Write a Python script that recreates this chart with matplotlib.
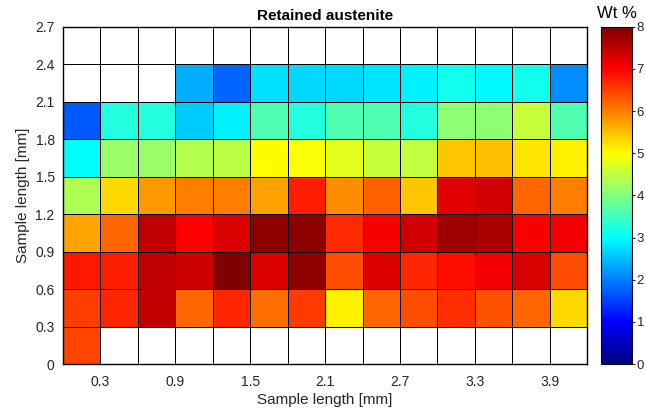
import numpy as np
import matplotlib
matplotlib.use("Agg")
import matplotlib.pyplot as plt
from matplotlib.colors import LinearSegmentedColormap

plt.rcParams['font.family'] = ['Liberation Sans', 'DejaVu Sans']

# cell edges (mm)
x_edges = np.round(np.arange(0, 4.2 + 0.001, 0.3), 2)
y_edges = np.round(np.arange(0, 2.7 + 0.001, 0.3), 2)
x_ticks = [0.3, 0.9, 1.5, 2.1, 2.7, 3.3, 3.9]
y_ticks = [0, 0.3, 0.6, 0.9, 1.2, 1.5, 1.8, 2.1, 2.4, 2.7]

nan = np.nan
# retained austenite, Wt %, one list per row, bottom row first
row_00 = [6.45, nan, nan, nan, nan, nan, nan, nan, nan, nan, nan, nan, nan, nan]
row_03 = [6.5, 6.7, 7.45, 6.2, 6.7, 6.15, 6.55, 5.1, 6.2, 6.4, 6.65, 6.35, 6.2, 5.3]
row_06 = [6.8, 6.75, 7.47, 7.4, 8.0, 7.25, 7.85, 6.4, 7.25, 6.7, 6.9, 7.08, 7.3, 6.4]
row_09 = [5.7, 6.2, 7.47, 7.0, 7.3, 7.9, 7.9, 6.68, 7.05, 7.35, 7.75, 7.68, 7.05, 7.08]
row_12 = [4.35, 5.3, 5.8, 6.0, 6.0, 5.72, 6.75, 5.9, 6.22, 5.45, 7.24, 7.35, 6.2, 6.0]
row_15 = [3.0, 4.2, 4.2, 4.4, 4.45, 5.0, 4.95, 4.75, 4.55, 4.5, 5.45, 5.5, 5.2, 5.1]
row_18 = [1.7, 3.25, 3.25, 2.6, 2.9, 3.62, 3.25, 3.62, 3.62, 3.25, 4.1, 4.1, 4.55, 3.65]
row_21 = [nan, nan, nan, 2.35, 1.8, 2.75, 2.7, 2.7, 2.8, 2.9, 3.15, 2.95, 3.15, 2.1]
row_24 = [nan] * 14

Z = np.array([row_00, row_03, row_06, row_09, row_12, row_15, row_18, row_21, row_24])

# MATLAB style jet
jet_m = LinearSegmentedColormap('jet_m', {
    'red':   [(0, 0, 0), (3/8, 0, 0), (5/8, 1, 1), (7/8, 1, 1), (1, 0.5, 0.5)],
    'green': [(0, 0, 0), (1/8, 0, 0), (3/8, 1, 1), (5/8, 1, 1), (7/8, 0, 0), (1, 0, 0)],
    'blue':  [(0, 0.5, 0.5), (1/8, 1, 1), (3/8, 1, 1), (5/8, 0, 0), (1, 0, 0)],
}, N=256)

fig = plt.figure(figsize=(6.46, 4.19), dpi=100)
ax = fig.add_axes([0.0975, 0.131, 0.8115, 0.805])
cax = fig.add_axes([0.931, 0.131, 0.048, 0.805])

mesh = ax.pcolormesh(x_edges, y_edges, np.ma.masked_invalid(Z), cmap=jet_m,
                     vmin=0, vmax=8, edgecolors='k', linewidth=0.6)

ax.set_xlim(0, 4.2)
ax.set_ylim(0, 2.7)
ax.set_xticks(x_ticks)
ax.set_xticklabels([str(t) for t in x_ticks])
ax.set_yticks(y_ticks)
ax.set_yticklabels(['0' if t == 0 else str(t) for t in y_ticks])
ax.set_xticks(x_edges, minor=True)
ax.set_yticks(y_edges, minor=True)
ax.grid(True, which='minor', color='k', linewidth=0.6, alpha=0.55)
ax.set_axisbelow(True)
ax.tick_params(which='both', length=0, labelsize=10, colors='#262626')
ax.tick_params(axis='x', pad=8)
ax.tick_params(axis='y', pad=6)
for s in ax.spines.values():
    s.set_linewidth(1.0)

ax.set_xlabel('Sample length [mm]', fontsize=11, color='#262626', labelpad=3)
ax.set_ylabel('Sample length [mm]', fontsize=11, color='#262626', labelpad=4)
ax.set_title('Retained austenite', fontsize=11, fontweight='bold', pad=5)

cb = fig.colorbar(mesh, cax=cax)
cb.set_ticks(range(0, 9))
cb.ax.tick_params(labelsize=9.5, colors='#262626', length=2, direction='out', pad=1)
cb.outline.set_linewidth(0.8)
cax.set_title('Wt %', fontsize=12, pad=6)

fig.savefig('out.png', dpi=100)
